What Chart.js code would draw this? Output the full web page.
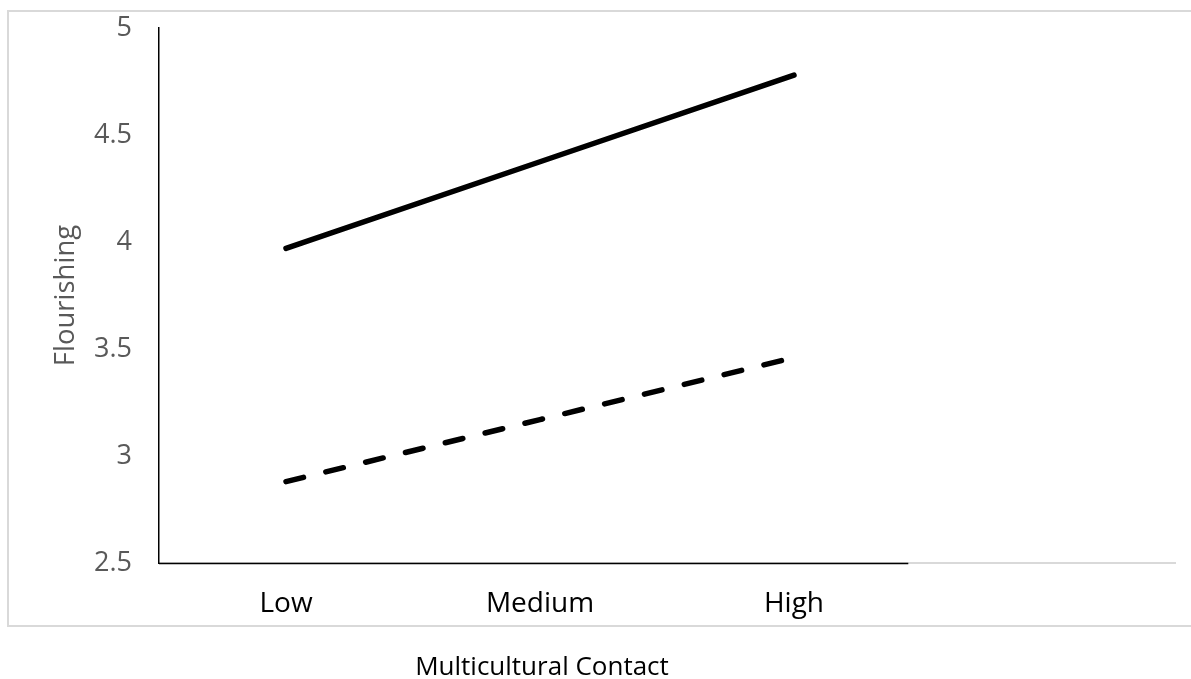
<!DOCTYPE html>
<html lang="en">
<head>
    <meta charset="UTF-8">
    <title>Flourishing by Multicultural Contact</title>
    <script src="https://cdn.jsdelivr.net/npm/chart.js"></script>
    <style>
        html, body { margin: 0; padding: 0; background: #fff; }
        #wrap { position: relative; width: 1191px; height: 679px; overflow: hidden; }
        #frame {
            position: absolute; left: 7px; top: 10px; width: 1200px; height: 613px;
            border: 2px solid #d9d9d9;
        }
        #chart { position: absolute; left: 0; top: 0; }
    </style>
</head>
<body>
    <div id="wrap">
        <div id="frame"></div>
        <canvas id="chart" width="1191" height="679"></canvas>
    </div>

    <script>
        // categories (the last one is an empty slot, as in the original)
        const categories = ['Low', 'Medium', 'High', ''];
        const solidSeries = [3.97, 4.375, 4.78, null];
        const dashedSeries = [2.88, 3.17, 3.46, null];
        const yTicks = [2.5, 3, 3.5, 4, 4.5, 5];

        const fontFamily = "'Open Sans', sans-serif";

        // draws the black part of the x axis and the x axis title
        const axisExtras = {
            id: 'axisExtras',
            afterDraw(chart) {
                const ctx = chart.ctx;
                const x = chart.scales.x;
                const area = chart.chartArea;
                ctx.save();
                ctx.strokeStyle = '#000';
                ctx.lineWidth = 1.5;
                ctx.beginPath();
                ctx.moveTo(area.left, area.bottom + 0.5);
                ctx.lineTo(x.getPixelForValue(2.45), area.bottom + 0.5);
                ctx.stroke();

                ctx.fillStyle = '#000';
                ctx.font = '26px ' + fontFamily;
                ctx.textAlign = 'center';
                ctx.textBaseline = 'middle';
                ctx.fillText('Multicultural Contact', x.getPixelForValue(1) + 2, 668);
                ctx.restore();
            }
        };

        new Chart(document.getElementById('chart').getContext('2d'), {
            type: 'line',
            data: {
                labels: categories,
                datasets: [
                    {
                        label: 'Solid',
                        data: solidSeries,
                        borderColor: '#000',
                        borderWidth: 5.5,
                        borderCapStyle: 'round',
                        pointRadius: 0,
                        fill: false
                    },
                    {
                        label: 'Dashed',
                        data: dashedSeries,
                        borderColor: '#000',
                        borderWidth: 5.5,
                        borderCapStyle: 'round',
                        borderDash: [18, 23],
                        pointRadius: 0,
                        fill: false
                    }
                ]
            },
            options: {
                responsive: false,
                animation: false,
                layout: { padding: { top: 28, right: 16, left: 0, bottom: 0 } },
                plugins: {
                    legend: { display: false },
                    tooltip: { enabled: false }
                },
                scales: {
                    x: {
                        offset: true,
                        grid: { display: false, drawTicks: false },
                        border: { color: '#d9d9d9', width: 2 },
                        ticks: {
                            padding: 24,
                            color: '#000',
                            font: { family: fontFamily, size: 28 }
                        },
                        afterFit(scale) { scale.height = 116; }
                    },
                    y: {
                        min: 2.5,
                        max: 5,
                        afterBuildTicks(scale) {
                            scale.ticks = yTicks.map(v => ({ value: v }));
                        },
                        grid: { display: false, drawTicks: false },
                        border: { color: '#000', width: 1.5 },
                        ticks: {
                            padding: 27,
                            color: '#595959',
                            font: { family: fontFamily, size: 27 },
                            callback: v => String(v)
                        },
                        title: {
                            display: true,
                            text: 'Flourishing',
                            color: '#595959',
                            font: { family: fontFamily, size: 27.5 },
                            padding: { top: 50, bottom: 0 }
                        },
                        afterFit(scale) {
                            scale.width = 159;
                            scale.paddingTop = 0;
                            scale.paddingBottom = 0;
                        }
                    }
                }
            },
            plugins: [axisExtras]
        });
    </script>
</body>
</html>
